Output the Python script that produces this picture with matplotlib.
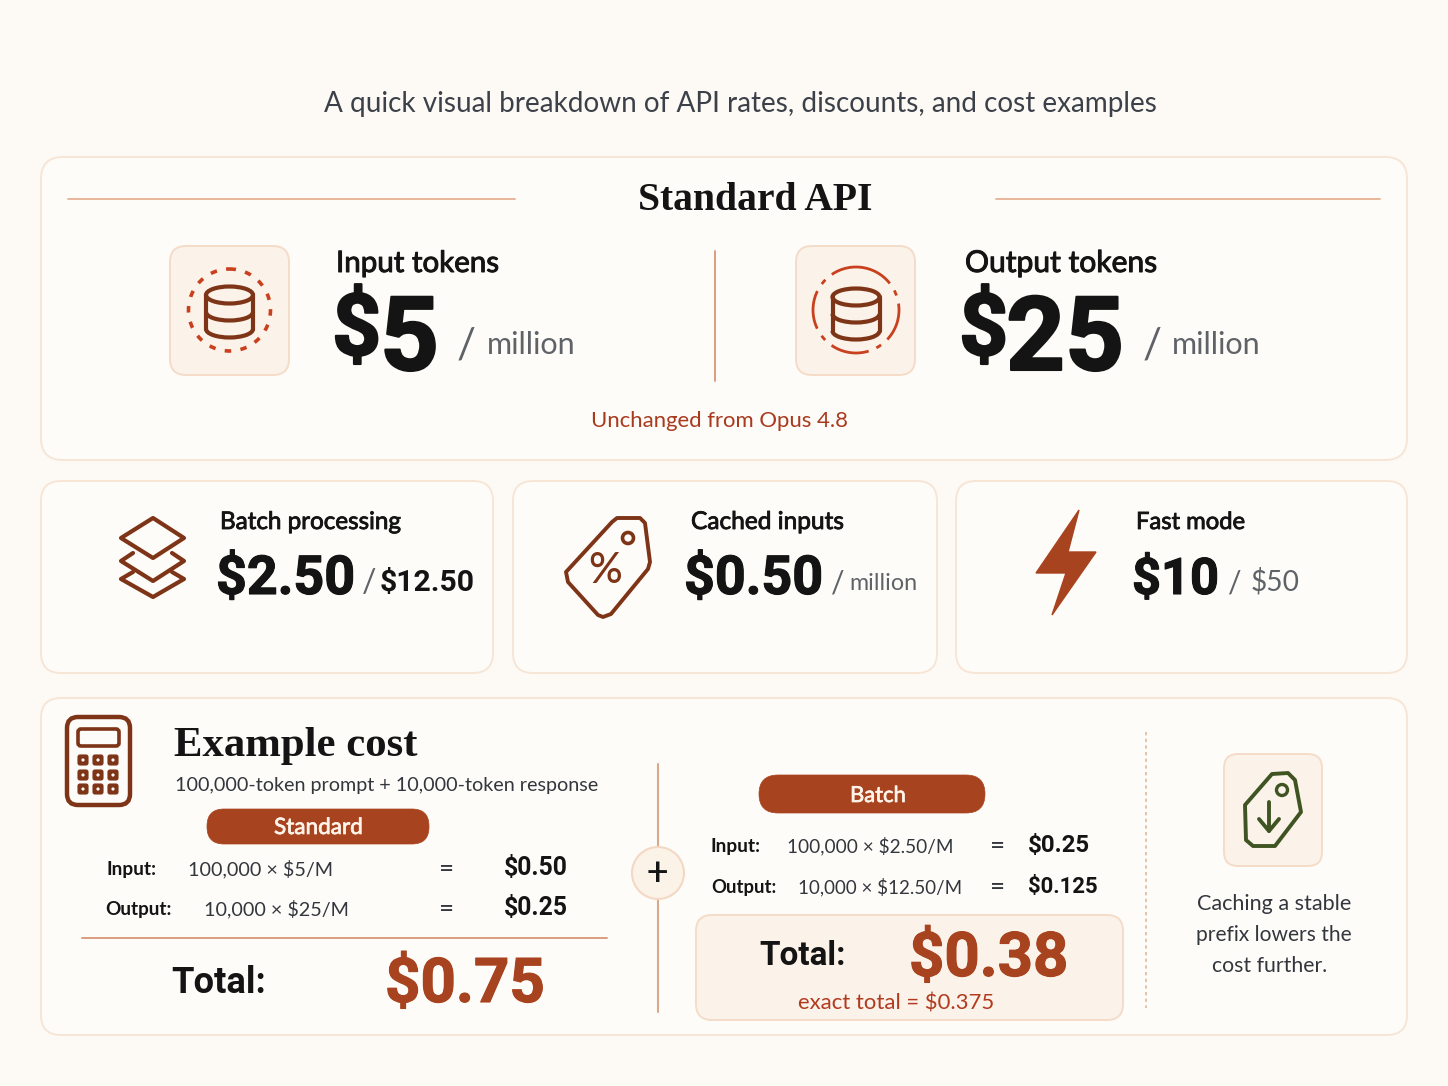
import matplotlib
matplotlib.use('Agg')
import matplotlib.pyplot as plt
import matplotlib.patheffects as pe
from matplotlib.patches import FancyBboxPatch, Ellipse, Arc, Circle, Polygon, PathPatch
from matplotlib.path import Path

BG = '#FDFAF6'
CARD = '#FEFCF9'
EDGE = '#F7E5D6'
RUST = '#A8431F'
BROWN = '#7E3417'
RED = '#C9401E'
INK = '#141414'
GREY = '#5F6368'
TEXT = '#33373D'
GREEN = '#3F5422'
SANS = ['Lato', 'DejaVu Sans']
NUM = ['Roboto', 'DejaVu Sans']
SERIF = ['Liberation Serif', 'DejaVu Serif']

subtitle = 'A quick visual breakdown of API rates, discounts, and cost examples'
main_title = 'Standard API'
unchanged_note = 'Unchanged from Opus 4.8'
input_rate = ['Input tokens', '$', '5', '/', 'million']
output_rate = ['Output tokens', '$', '25', '/', 'million']
batch_rate = ['Batch processing', '$2.50', '/', '$12.50']
cached_rate = ['Cached inputs', '$0.50', '/', 'million']
fast_rate = ['Fast mode', '$10', '/', '$50']
example_title = 'Example cost'
example_sub = '100,000-token prompt + 10,000-token response'
standard_rows = [['Input:', '100,000 × $5/M', '=', '$0.50'],
                 ['Output:', '10,000 × $25/M', '=', '$0.25']]
batch_rows = [['Input:', '100,000 × $2.50/M', '=', '$0.25'],
              ['Output:', '10,000 × $12.50/M', '=', '$0.125']]
standard_total = '$0.75'
batch_total = '$0.38'
batch_exact = 'exact total = $0.375'
caching_note = ['Caching a stable', 'prefix lowers the', 'cost further.']

fig = plt.figure(figsize=(14.48, 10.86), dpi=100, facecolor=BG)
ax = fig.add_axes([0, 0, 1, 1])
ax.set_xlim(0, 1448)
ax.set_ylim(1086, 0)
ax.axis('off')
renderer = fig.canvas.get_renderer()


def txt(x, y, s, px=None, color=INK, weight='normal', ha='left', fam=SANS, va='baseline', w=None, thick=0):
    # px is the em size in image pixels, w a target width in pixels
    t = ax.text(x, y, s, fontsize=(px or 30) * 0.72, color=color, fontweight=weight, ha=ha, va=va,
                family=fam, zorder=5)
    if w is not None:
        t.set_fontsize(t.get_fontsize() * w / t.get_window_extent(renderer).width)
    if thick:
        t.set_path_effects([pe.withStroke(linewidth=thick, foreground=color)])
    return t


def box(x0, y0, x1, y1, r=18, face=CARD, edge=EDGE, lw=1.4, z=1):
    ax.add_patch(FancyBboxPatch((x0 + r, y0 + r), x1 - x0 - 2 * r, y1 - y0 - 2 * r,
                                boxstyle='round,pad=%d,rounding_size=%d' % (r, r),
                                fc=face, ec=edge, lw=lw, zorder=z))


def line(xs, ys, color=EDGE, lw=1.4, ls='-', z=2):
    ax.plot(xs, ys, color=color, lw=lw, ls=ls, zorder=z, solid_capstyle='round')


def stroke(points, color=BROWN, lw=3.0, closed=True):
    verts = list(points)
    codes = [Path.MOVETO] + [Path.LINETO] * (len(verts) - 1)
    if closed:
        verts.append(verts[0])
        codes.append(Path.CLOSEPOLY)
    ax.add_patch(PathPatch(Path(verts, codes), fc='none', ec=color, lw=lw, joinstyle='round', capstyle='round', zorder=4))


def database(cx, cy):
    w, eh = 47, 17
    top, bot = cy - 17, cy + 17
    ax.add_patch(Ellipse((cx, top), w, eh, fc='none', ec=BROWN, lw=3, zorder=4))
    ax.add_patch(Arc((cx, cy), w, eh, theta1=0, theta2=180, ec=BROWN, lw=3, zorder=4))
    ax.add_patch(Arc((cx, bot), w, eh, theta1=0, theta2=180, ec=BROWN, lw=3, zorder=4))
    line([cx - w / 2, cx - w / 2], [top, bot], BROWN, 3, z=4)
    line([cx + w / 2, cx + w / 2], [top, bot], BROWN, 3, z=4)


# cards
box(41, 157, 1407, 460, r=22)
box(41, 481, 493, 673, r=20)
box(513, 481, 937, 673, r=20)
box(956, 481, 1407, 673, r=20)
box(41, 698, 1407, 1035, r=20)

# header
txt(324, 112, subtitle, color='#3C4149', w=833)
txt(638, 210, main_title, color=INK, weight='bold', fam=SERIF, w=235)
line([68, 515], [199, 199], '#E8B79B', 1.4)
line([996, 1380], [199, 199], '#E8B79B', 1.4)
line([715, 715], [251, 381], '#D99E7E', 1.4)

# standard rates
box(170, 246, 289, 375, r=16, face='#FBF2E9', edge='#F5DCC8')
box(796, 246, 915, 375, r=16, face='#FBF2E9', edge='#F5DCC8')
ax.add_patch(Circle((229.5, 310), 41, fc='none', ec=RED, lw=2.6, ls=(0, (1.8, 2.6)), zorder=4))
ax.add_patch(Circle((856, 310), 43, fc='none', ec=RED, lw=2.0, ls=(0, (14, 3, 2, 3)), zorder=4))
database(229.5, 312)
database(856, 314)

txt(336, 272, input_rate[0], color=INK, w=163, thick=0.7)
txt(332, 355, input_rate[1], 86, INK, 'bold', fam=NUM, thick=1.5)
txt(380, 370, input_rate[2], 103, INK, 'bold', fam=NUM, thick=1.5)
txt(457, 357, input_rate[3], 42, GREY)
txt(487, 354, input_rate[4], color=GREY, w=89)

txt(965, 272, output_rate[0], color=INK, w=192, thick=0.7)
txt(959, 355, output_rate[1], 86, INK, 'bold', fam=NUM, thick=1.5)
txt(1006, 370, output_rate[2], 103, INK, 'bold', fam=NUM, thick=1.5)
txt(1143, 357, output_rate[3], 42, GREY)
txt(1172, 354, output_rate[4], color=GREY, w=89)
txt(591, 427, unchanged_note, color='#A93A1E', w=257)

# batch card
txt(220, 529, batch_rate[0], color=INK, w=181, thick=0.6)
txt(216, 594, batch_rate[1], color=INK, weight='bold', fam=NUM, w=139, thick=0.8)
txt(362, 592, batch_rate[2], 32, GREY)
txt(380, 591, batch_rate[3], color=INK, weight='bold', fam=NUM, w=95)
stroke([(153, 518), (184, 538), (153, 558), (121, 538)])
stroke([(133, 553), (121, 561), (153, 581), (184, 561), (172, 553)], closed=False)
stroke([(133, 572), (121, 579), (153, 597), (184, 579), (172, 572)], closed=False)

# cached card
txt(691, 529, cached_rate[0], color=INK, w=153, thick=0.6)
txt(684, 594, cached_rate[1], color=INK, weight='bold', fam=NUM, w=139, thick=0.8)
txt(831, 592, cached_rate[2], 30, GREY)
txt(849, 590, cached_rate[3], color=GREY, w=68)
tag_v = [(566, 572), (612, 522), (617, 518), (640, 518), (645, 523), (650, 562), (648, 569), (611, 614), (603, 617),
         (598, 615), (568, 582)]
stroke(tag_v, BROWN, 2.8)
ax.add_patch(Circle((628, 538), 5.5, fc='none', ec=BROWN, lw=2.6, zorder=4))
txt(605, 571, '%', 42, BROWN, 'medium', ha='center', va='center')

# fast card
txt(1136, 529, fast_rate[0], color=INK, w=109, thick=0.6)
txt(1132, 594, fast_rate[1], color=INK, weight='bold', fam=NUM, w=87, thick=0.8)
txt(1228, 592, fast_rate[2], 30, GREY)
txt(1251, 590, fast_rate[3], color=GREY, w=49)
ax.add_patch(Polygon([(1079, 510), (1036, 573), (1066, 573), (1052, 615), (1096, 552), (1068, 552)],
                     fc=RUST, ec=RUST, lw=1, zorder=4))

# calculator icon
box(67, 717, 130, 805, r=11, face='none', edge=BROWN, lw=3.2, z=4)
box(78, 729, 119, 746, r=3, face='none', edge=BROWN, lw=2.6, z=4)
for kx in (83, 98, 113):
    for ky in (760, 775, 789):
        box(kx - 5, ky - 5, kx + 5, ky + 5, r=2, face=BROWN, edge=BROWN, lw=0.8, z=4)
        ax.add_patch(Circle((kx, ky), 1.6, fc=CARD, ec='none', zorder=5))

# example cost, standard
txt(174, 756, example_title, color=INK, weight='bold', fam=SERIF, w=243)
txt(175, 791, example_sub, color=TEXT, w=424)
box(207, 809, 429, 844, r=17, face=RUST, edge=RUST, lw=0.5)
txt(274, 834, 'Standard', color='#FFF4EA', w=89, thick=0.5)
row_x = [(106, 188, 447, 504), (105, 204, 447, 504)]
row_w = [(50, 145, 64), (66, 145, 64)]
row_y = [875, 915]
for r, xs, ws, y in zip(standard_rows, row_x, row_w, row_y):
    txt(xs[0], y, r[0], color=INK, weight='bold', w=ws[0])
    txt(xs[1], y, r[1], color=TEXT, w=ws[1])
    txt(xs[2], y + 2, r[2], 26, TEXT, ha='center')
    txt(xs[3], y, r[3], color=INK, weight='bold', fam=NUM, w=ws[2])
line([82, 607], [938, 938], '#D99E7E', 1.4)
txt(171, 993, 'Total:', color=INK, weight='bold', fam=NUM, w=95)
txt(385, 1002, standard_total, color=RUST, weight='bold', fam=NUM, w=160, thick=0.8)

# plus divider
line([658, 658], [764, 1012], '#D9A98C', 1.5)
ax.add_patch(Circle((658, 873), 26, fc='#FBF2E8', ec='#F3D9C4', lw=1.5, zorder=3))
txt(657, 875, '+', 38, INK, 'normal', ha='center', va='center', fam=NUM)

# example cost, batch
box(759, 775, 985, 813, r=19, face=RUST, edge=RUST, lw=0.5)
txt(850, 802, 'Batch', color='#FFF4EA', w=56, thick=0.5)
batch_x = [(711, 787, 998, 1028), (711, 798, 998, 1028)]
batch_w = [(50, 166, 62), (65, 164, 70)]
batch_y = [852, 893]
for r, xs, ws, y in zip(batch_rows, batch_x, batch_w, batch_y):
    txt(xs[0], y, r[0], color=INK, weight='bold', w=ws[0])
    txt(xs[1], y, r[1], color=TEXT, w=ws[1])
    txt(xs[2], y + 2, r[2], 26, TEXT, ha='center')
    txt(xs[3], y, r[3], color=INK, weight='bold', fam=NUM, w=ws[2])
box(696, 915, 1123, 1020, r=16, face='#FBF2E9', edge='#F5DCC8')
txt(759, 965, 'Total:', color=INK, weight='bold', fam=NUM, w=87)
txt(909, 976, batch_total, color=RUST, weight='bold', fam=NUM, w=159, thick=0.8)
txt(798, 1009, batch_exact, color='#B23A1E', w=196)

# caching tip
line([1146, 1146], [732, 1008], '#DDB9A0', 1.2, ls=(0, (2, 2)))
box(1224, 754, 1322, 866, r=14, face='#FBF2E9', edge='#F5DCC8')
stroke([(1272, 774), (1288, 773), (1295, 780), (1301, 812), (1275, 846), (1253, 846), (1246, 840),
        (1245, 805)], GREEN, 2.8)
ax.add_patch(Circle((1282, 790), 5.5, fc='none', ec=GREEN, lw=2.4, zorder=4))
stroke([(1269, 802), (1269, 831)], GREEN, 2.8, closed=False)
stroke([(1259, 819), (1269, 831), (1279, 819)], GREEN, 2.8, closed=False)
for s, x, y, w in zip(caching_note, (1197, 1196, 1212), (910, 941, 972), (155, 156, 115)):
    txt(x, y, s, color=TEXT, w=w)

fig.savefig('out.png', dpi=100, facecolor=BG)
